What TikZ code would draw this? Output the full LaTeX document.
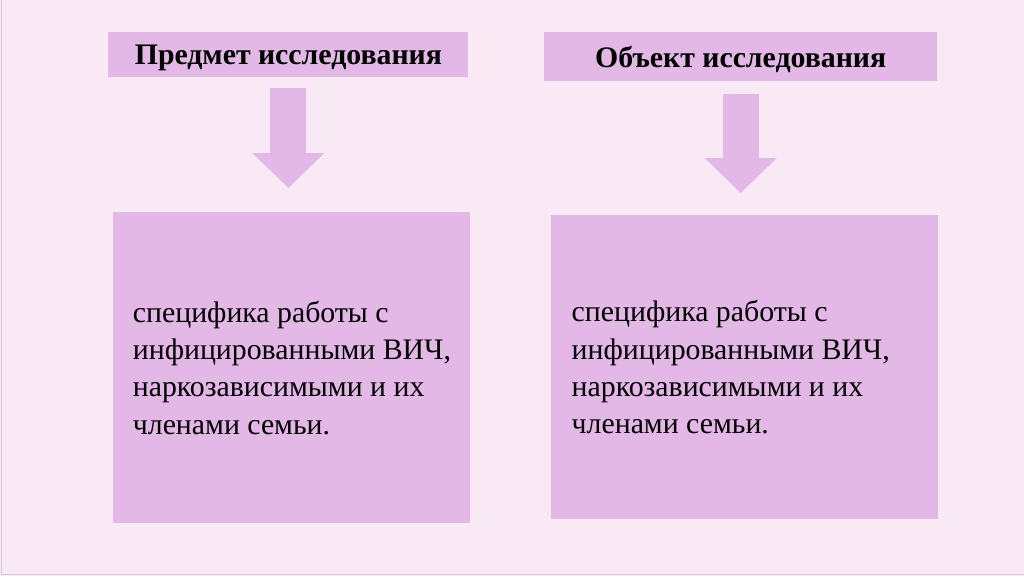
\documentclass[tikz,border=0pt]{standalone}
\usepackage{fontspec}
\setmainfont{Liberation Serif}
\usepackage{xcolor}
\usetikzlibrary{arrows.meta,positioning}
\definecolor{softpink}{HTML}{F8E9F5}
\definecolor{boxlilac}{HTML}{E3B7E6}
\definecolor{framegray}{HTML}{D4CCD2}

\begin{document}
\begin{tikzpicture}[x=0.025cm, y=-0.025cm,
  title/.style={
    rectangle, fill=boxlilac, inner sep=0pt, align=center, text depth=0pt,
    font=\fontsize{21.2}{25}\selectfont\bfseries
  },
  panel/.style={
    rectangle, fill=boxlilac, inner sep=0pt
  },
  body/.style={
    anchor=west, align=left, inner sep=0pt,
    font=\fontsize{21.2}{26.5}\selectfont
  },
  blockarrow/.style={
    -{Triangle[width=1.75cm, length=0.875cm]}, line width=0.9cm, draw=boxlilac
  }
]
\fill[softpink] (0,0) rectangle (1024,576);
\draw[framegray, line width=0.6pt] (1.5,0) -- (1.5,574.5) -- (1024,574.5);

\node[title, minimum width=9cm, minimum height=1.125cm] (subj) at (288.5,54.5) {Предмет исследования};
\node[title, minimum width=9.825cm, minimum height=1.225cm] (obj) at (741,56.5) {Объект исследования};

\node[panel, minimum width=8.925cm, minimum height=7.775cm] (subjbox) at (291.5,367.5) {};
\node[panel, minimum width=9.675cm, minimum height=7.6cm] (objbox) at (744.5,367) {};

\node[body] (subjtext) at ([xshift=0.5cm]subjbox.west) {специфика работы с\\инфицированными ВИЧ,\\наркозависимыми и их\\членами семьи.};
\node[body] (objtext) at ([xshift=0.525cm]objbox.west) {специфика работы с\\инфицированными ВИЧ,\\наркозависимыми и их\\членами семьи.};

\draw[blockarrow, shorten <=0.25cm, shorten >=0.6cm] (subj) -- (subj |- subjbox.north);
\draw[blockarrow, shorten <=0.3cm, shorten >=0.55cm] (obj) -- (obj |- objbox.north);
\end{tikzpicture}
\end{document}
